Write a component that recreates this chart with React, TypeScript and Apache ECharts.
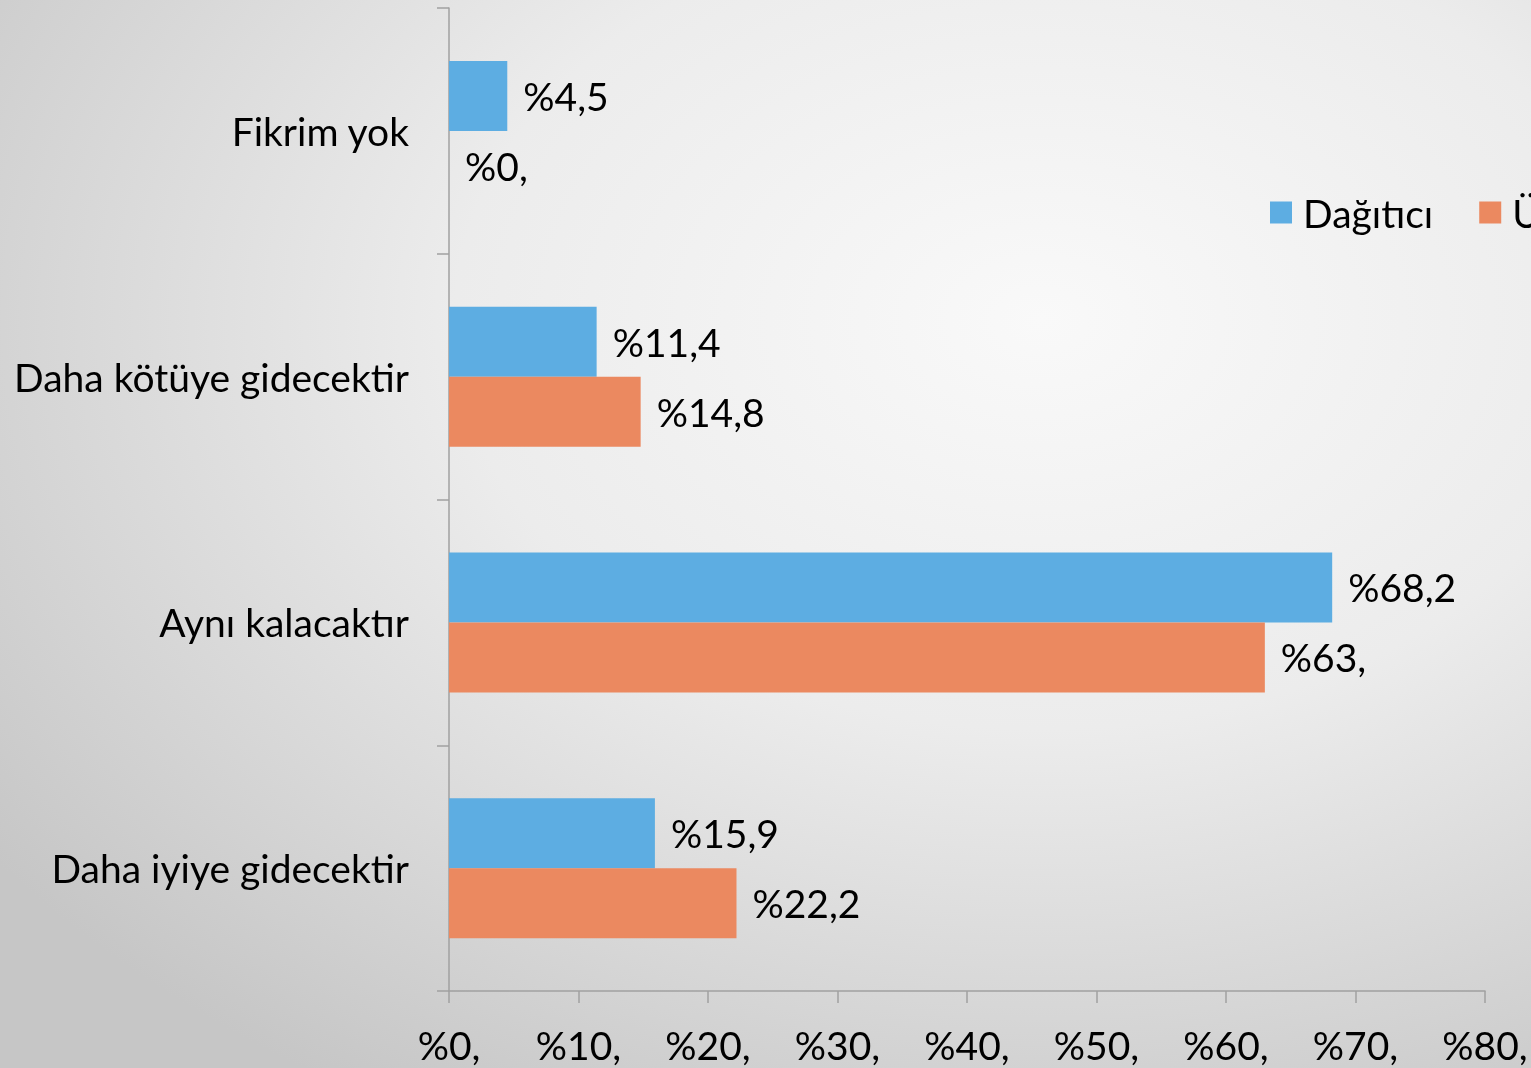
import React, { useEffect, useRef } from "react";
import * as echarts from "echarts";

const categories = ["Fikrim yok", "Daha kötüye gidecektir", "Aynı kalacaktır", "Daha iyiye gidecektir"];
const seriesNames = ["Dağıtıcı", "Üretici"];
const dagiticiValues = [4.5, 11.4, 68.2, 15.9];
const ureticiValues = [0, 14.8, 63, 22.2];
const axisMin = 0;
const axisMax = 80;
const axisInterval = 10;

const FONT = "Lato";
const FS = 39;

function fmt(v: number): string {
  const s = String(v).replace(".", ",");
  return "%" + (s.includes(",") ? s : s + ",");
}

export default function App() {
  const ref = useRef<HTMLDivElement>(null);
  useEffect(() => {
    if (!ref.current) return;
    const chart = echarts.init(ref.current, undefined, { renderer: "svg" });
    chart.setOption({
      animation: false,
      backgroundColor: {
        type: "radial",
        x: 0.68,
        y: 0.3,
        r: 0.85,
        colorStops: [
          { offset: 0, color: "#f9f9f9" },
          { offset: 0.45, color: "#ececec" },
          { offset: 1, color: "#c6c6c6" },
        ],
      },
      textStyle: { fontFamily: FONT },
      grid: { left: 449, right: 46, top: 8, bottom: 77, containLabel: false },
      legend: {
        data: seriesNames,
        left: 1270,
        top: 193,
        width: 600,
        padding: 0,
        itemWidth: 22,
        itemHeight: 22,
        itemGap: 46,
        icon: "rect",
        textStyle: { fontSize: FS, color: "#000", fontFamily: FONT, padding: [0, 0, 0, 6] },
      },
      xAxis: {
        type: "value",
        min: axisMin,
        max: axisMax,
        interval: axisInterval,
        splitLine: { show: false },
        axisLine: { show: true, lineStyle: { color: "#a0a0a0", width: 1.5 } },
        axisTick: { show: true, length: 12, lineStyle: { color: "#a0a0a0", width: 1.5 } },
        axisLabel: {
          fontSize: FS,
          color: "#000",
          fontFamily: FONT,
          margin: 34,
          formatter: (v: number) => "%" + v + ",",
        },
      },
      yAxis: {
        type: "category",
        data: categories,
        inverse: true,
        axisLine: { show: true, lineStyle: { color: "#a0a0a0", width: 1.5 } },
        axisTick: { show: true, length: 12, lineStyle: { color: "#a0a0a0", width: 1.5 } },
        axisLabel: { fontSize: FS, color: "#000", fontFamily: FONT, margin: 40 },
      },
      series: [
        {
          name: seriesNames[0],
          type: "bar",
          data: dagiticiValues,
          barWidth: 70,
          barGap: "0%",
          itemStyle: { color: "#5dade2" },
          label: {
            show: true,
            position: "right",
            distance: 16,
            fontSize: FS,
            color: "#000",
            fontFamily: FONT,
            formatter: (p: any) => fmt(p.value),
          },
        },
        {
          name: seriesNames[1],
          type: "bar",
          data: ureticiValues,
          barWidth: 70,
          barGap: "0%",
          itemStyle: { color: "#eb8960" },
          label: {
            show: true,
            position: "right",
            distance: 16,
            fontSize: FS,
            color: "#000",
            fontFamily: FONT,
            formatter: (p: any) => fmt(p.value),
          },
        },
      ],
    });
    return () => chart.dispose();
  }, []);
  return (
    <div
      ref={ref}
      style={{ position: "fixed", left: 0, top: 0, width: 1531, height: 1068 }}
    />
  );
}
